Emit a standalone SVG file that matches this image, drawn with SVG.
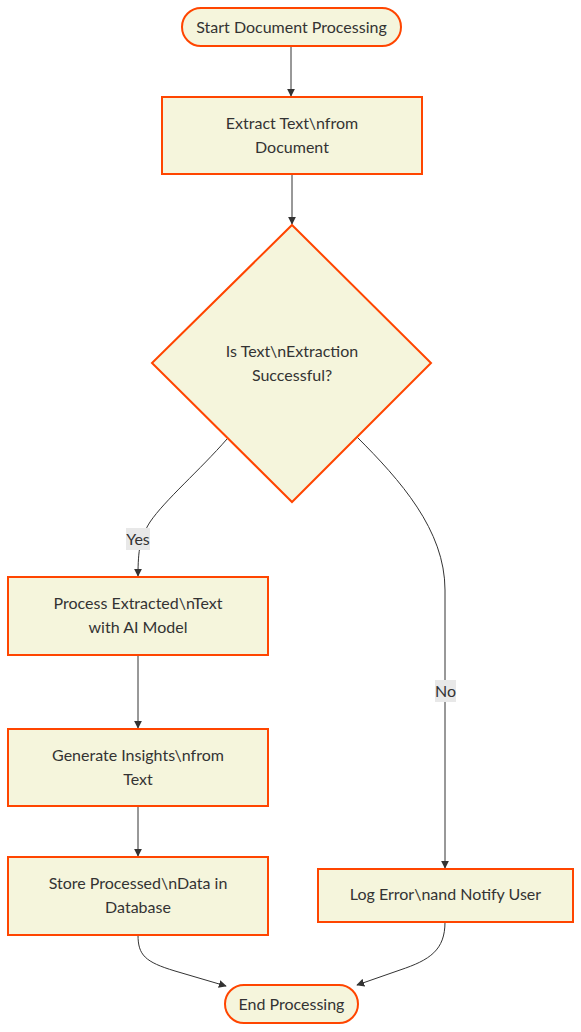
<svg xmlns="http://www.w3.org/2000/svg" width="581" height="1032" viewBox="0 0 581 1032">
<style>
.n{fill:#f5f5dc;stroke:#ff4500;stroke-width:2}
.t{font-family:Lato,"Liberation Sans",sans-serif;font-size:16px;fill:#333;text-anchor:middle;dominant-baseline:central}
.e{fill:none;stroke:#333;stroke-width:1}
.lb{fill:#e8e8e8}
</style>
<defs>
<marker id="ah" viewBox="0 0 10 10" refX="9" refY="5" markerWidth="8" markerHeight="8" markerUnits="userSpaceOnUse" orient="auto">
<path d="M0,0 L10,5 L0,10 z" fill="#333"/>
</marker>
</defs>
<rect width="581" height="1032" fill="#fff"/>
<g id="edges">
<path class="e" d="M291,46 L291,96" marker-end="url(#ah)"/>
<path class="e" d="M292,174 L292,224" marker-end="url(#ah)"/>
<path class="e" d="M227,439 C200,470 165,500 150,522 C140,538 138,550 138,576" marker-end="url(#ah)"/>
<path class="e" d="M357,437 C400,480 445,530 445,590 L445,868" marker-end="url(#ah)"/>
<path class="e" d="M138,655 L138,728" marker-end="url(#ah)"/>
<path class="e" d="M138,806 L138,856" marker-end="url(#ah)"/>
<path class="e" d="M138,935 C138,955 145,962 175,971 L226,986" marker-end="url(#ah)"/>
<path class="e" d="M445,922 C445,950 430,960 400,970 L357,985" marker-end="url(#ah)"/>
<rect class="lb" x="126" y="528" width="24" height="22"/>
<text class="t" x="138" y="538">Yes</text>
<rect class="lb" x="435" y="680" width="21" height="22"/>
<text class="t" x="445.5" y="690">No</text>
</g>
<g id="start">
<rect class="n" x="182" y="8" width="219" height="38" rx="19"/>
<text class="t" x="291.5" y="26">Start Document Processing</text>
</g>
<g id="extract">
<rect class="n" x="162" y="97" width="260" height="77"/>
<text class="t" x="292" y="122">Extract Text\nfrom</text>
<text class="t" x="292" y="146">Document</text>
</g>
<g id="decision">
<polygon class="n" points="292,225 431,363 292,502 152,363"/>
<text class="t" x="292" y="350">Is Text\nExtraction</text>
<text class="t" x="292" y="374">Successful?</text>
</g>
<g id="process">
<rect class="n" x="8" y="577" width="260" height="78"/>
<text class="t" x="138" y="602">Process Extracted\nText</text>
<text class="t" x="138" y="626">with AI Model</text>
</g>
<g id="generate">
<rect class="n" x="8" y="729" width="260" height="77"/>
<text class="t" x="138" y="754">Generate Insights\nfrom</text>
<text class="t" x="138" y="778">Text</text>
</g>
<g id="store">
<rect class="n" x="8" y="857" width="260" height="78"/>
<text class="t" x="138" y="882">Store Processed\nData in</text>
<text class="t" x="138" y="906">Database</text>
</g>
<g id="log">
<rect class="n" x="318" y="869" width="255" height="53"/>
<text class="t" x="445.5" y="893">Log Error\nand Notify User</text>
</g>
<g id="end">
<rect class="n" x="225" y="985" width="133" height="38" rx="19"/>
<text class="t" x="291.5" y="1003">End Processing</text>
</g>
</svg>
